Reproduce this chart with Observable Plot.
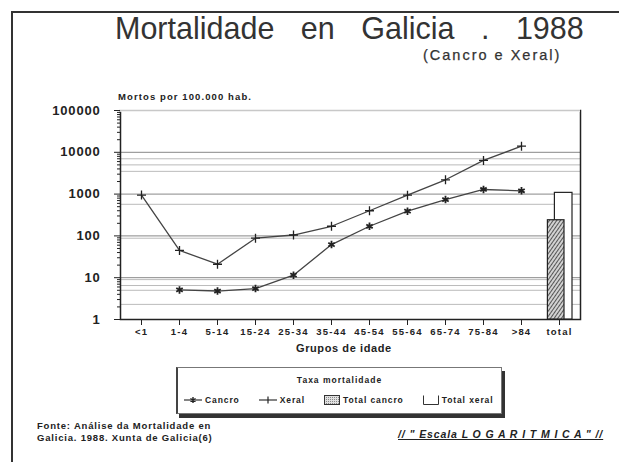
<!DOCTYPE html>
<html><head><meta charset="utf-8">
<script src="https://cdn.jsdelivr.net/npm/d3@7"></script>
<script src="https://cdn.jsdelivr.net/npm/@observablehq/plot@0.6"></script>
<style>
body{margin:0;background:#fff;}
#page{position:relative;width:619px;height:462px;overflow:hidden;font-family:"Liberation Sans",Arial,sans-serif;color:#222;background:#fff;}
#chart{position:absolute;left:0;top:0;}
.abs{position:absolute;white-space:nowrap;}
#topline{position:absolute;left:11px;top:11px;width:620px;height:0;border-top:2px solid #333;}
#leftline{position:absolute;left:11px;top:11px;width:0;height:460px;border-left:2px solid #333;}
#title{left:115px;top:14px;font-size:30.5px;line-height:29px;color:#333;word-spacing:18px;}
#subtitle{left:423px;top:48px;font-size:14.5px;line-height:14px;color:#333;letter-spacing:2px;-webkit-text-stroke:0.25px #333;}
#ylab{left:118px;top:91px;font-size:9.5px;font-weight:bold;letter-spacing:1.1px;}
#xlab{left:296px;top:342px;font-size:11px;font-weight:bold;letter-spacing:0.6px;}
#legend{position:absolute;left:176px;top:367px;width:323px;height:45px;border:1px solid #777;border-left:2px solid #444;box-shadow:3px 4px 0 #333;background:#fff;}
#legend .ltitle{position:absolute;left:0;right:0;top:7px;text-align:center;font-size:8.5px;font-weight:bold;letter-spacing:1px;}
#legend .items{position:absolute;left:6px;top:27px;font-size:8.5px;font-weight:bold;letter-spacing:0.9px;display:flex;align-items:center;white-space:nowrap;}
#legend .item{display:flex;align-items:center;margin-right:19px;flex-shrink:0;white-space:nowrap;}
#legend svg{margin-right:3px;flex-shrink:0;}
#fonte{left:37px;top:420px;font-size:9.5px;font-weight:bold;letter-spacing:0.8px;line-height:11.5px;}
#escala{left:398px;top:428px;font-size:10.5px;font-weight:bold;font-style:italic;text-decoration:underline;letter-spacing:0.9px;}
#chart svg [aria-label="y-axis tick label"] text{font-weight:bold;font-size:13px;letter-spacing:0.8px;}
#chart svg [aria-label="x-axis tick label"] text{font-weight:bold;font-size:9.5px;letter-spacing:1.2px;}
</style></head><body>
<div id="page">
  <div id="chart"></div>
  <div id="topline"></div>
  <div id="leftline"></div>
  <div id="title" class="abs">Mortalidade en Galicia . 1988</div>
  <div id="subtitle" class="abs">(Cancro e Xeral)</div>
  <div id="ylab" class="abs">Mortos por 100.000 hab.</div>
  <div id="xlab" class="abs">Grupos de idade</div>
  <div id="legend">
    <div class="ltitle">Taxa mortalidade</div>
    <div class="items">
      <div class="item"><svg width="18" height="10"><line x1="0" y1="5" x2="18" y2="5" stroke="#333" stroke-width="1.2"/><path d="M9,2V8M6.4,3.5L11.6,6.5M6.4,6.5L11.6,3.5" stroke="#222" stroke-width="1.4"/></svg>Cancro</div>
      <div class="item"><svg width="18" height="10"><line x1="0" y1="5" x2="18" y2="5" stroke="#333" stroke-width="1.2"/><line x1="9" y1="1.5" x2="9" y2="8.5" stroke="#222" stroke-width="1.2"/></svg>Xeral</div>
      <div class="item"><svg width="16" height="10"><defs><pattern id="lhatch" patternUnits="userSpaceOnUse" width="2" height="2"><rect width="2" height="2" fill="#e0e0e0"/><rect width="1" height="1" fill="#888"/></pattern></defs><rect x="0.5" y="0.5" width="15" height="9" fill="url(#lhatch)" stroke="#333"/></svg>Total cancro</div>
      <div class="item"><svg width="16" height="10"><path d="M0.5,0.5V9.5H15.5V0.5" fill="none" stroke="#333"/></svg>Total xeral</div>
    </div>
  </div>
  <div id="fonte" class="abs">Fonte: Análise da Mortalidade en<br>Galicia. 1988. Xunta de Galicia(6)</div>
  <div id="escala" class="abs">// " Escala L O G A R I T M I C A " //</div>
</div>
<script>
const categories = ["<1","1-4","5-14","15-24","25-34","35-44","45-54","55-64","65-74","75-84",">84","total"];
const ageGroups = categories.slice(0, 11);
const cancro = [null, 5.1, 4.8, 5.5, 11.5, 62, 170, 390, 740, 1290, 1200];
const xeral = [950, 45, 21, 88, 105, 170, 400, 940, 2200, 6400, 14000];
const totalCancro = 237;
const totalXeral = 1070;
const yTicks = [1, 10, 100, 1000, 10000, 100000];
const gridMajor = [10, 100, 1000, 10000];
const gridMinor = [7000, 5000, 3500, 570, 88, 9, 6.5, 5, 2.3];

const rows = ageGroups.map((g, i) => ({group: g, cancro: cancro[i], xeral: xeral[i]}));
const cancroRows = rows.filter(d => d.cancro != null);
const totXeral = [{group: "total", value: totalXeral}];
const totCancro = [{group: "total", value: totalCancro}];
const minorTicks = [];
for (const d of yTicks.slice(0, -1)) for (let k = 2; k < 10; k++) minorTicks.push(d * k);

const chart = Plot.plot({
  width: 619, height: 462,
  marginLeft: 120, marginRight: 39, marginTop: 110, marginBottom: 143,
  style: {fontFamily: '"Liberation Sans", Arial, sans-serif', color: "#222", background: "transparent", overflow: "visible"},
  x: {type: "band", domain: categories, padding: 0, label: null},
  y: {type: "log", domain: [1, 100000], label: null},
  marks: [
    Plot.ruleY(gridMinor, {stroke: "#bbb", strokeWidth: 1}),
    Plot.ruleY(gridMajor, {stroke: "#888", strokeWidth: 1}),
    Plot.frame({stroke: "#222", strokeWidth: 1.5}),
    Plot.ruleY([100000], {stroke: "#fff", strokeWidth: 2.5}),
    Plot.ruleY([100000], {stroke: "#c8c8c8", strokeWidth: 1.2}),
    Plot.barY(totXeral, {x: "group", y1: 1, y2: "value", fill: "white", stroke: "#222", strokeWidth: 1.2, insetLeft: 14.4, insetRight: 6}),
    Plot.barY(totCancro, {x: "group", y1: 1, y2: "value", fill: "url(#hatch)", stroke: "#222", strokeWidth: 1.2, insetLeft: 7.4, insetRight: 14}),
    Plot.line(rows, {x: "group", y: "xeral", stroke: "#444", strokeWidth: 1.3}),
    Plot.line(cancroRows, {x: "group", y: "cancro", stroke: "#444", strokeWidth: 1.3}),
    Plot.dot(rows, {x: "group", y: "xeral", symbol: "plus", r: 3, stroke: "#222", strokeWidth: 1.3}),
    Plot.dot(cancroRows, {x: "group", y: "cancro", symbol: "asterisk", r: 3.5, stroke: "#222", strokeWidth: 1.8}),
    Plot.axisY({ticks: minorTicks, tickSize: 3, tickFormat: () => "", label: null}),
    Plot.axisY({ticks: yTicks, tickSize: 6, tickPadding: 14, tickFormat: d => String(d), label: null}),
    Plot.axisX({tickSize: 6, tickPadding: 3, label: null})
  ]
});
const defs = d3.select(chart).insert("defs", ":first-child");
const pat = defs.append("pattern").attr("id", "hatch").attr("patternUnits", "userSpaceOnUse")
  .attr("width", 3).attr("height", 3).attr("patternTransform", "rotate(35)");
pat.append("rect").attr("width", 3).attr("height", 3).attr("fill", "#d2d2d2");
pat.append("line").attr("x1", 0.5).attr("y1", 0).attr("x2", 0.5).attr("y2", 3).attr("stroke", "#555").attr("stroke-width", 1);
document.getElementById("chart").appendChild(chart);
</script>
</body></html>
